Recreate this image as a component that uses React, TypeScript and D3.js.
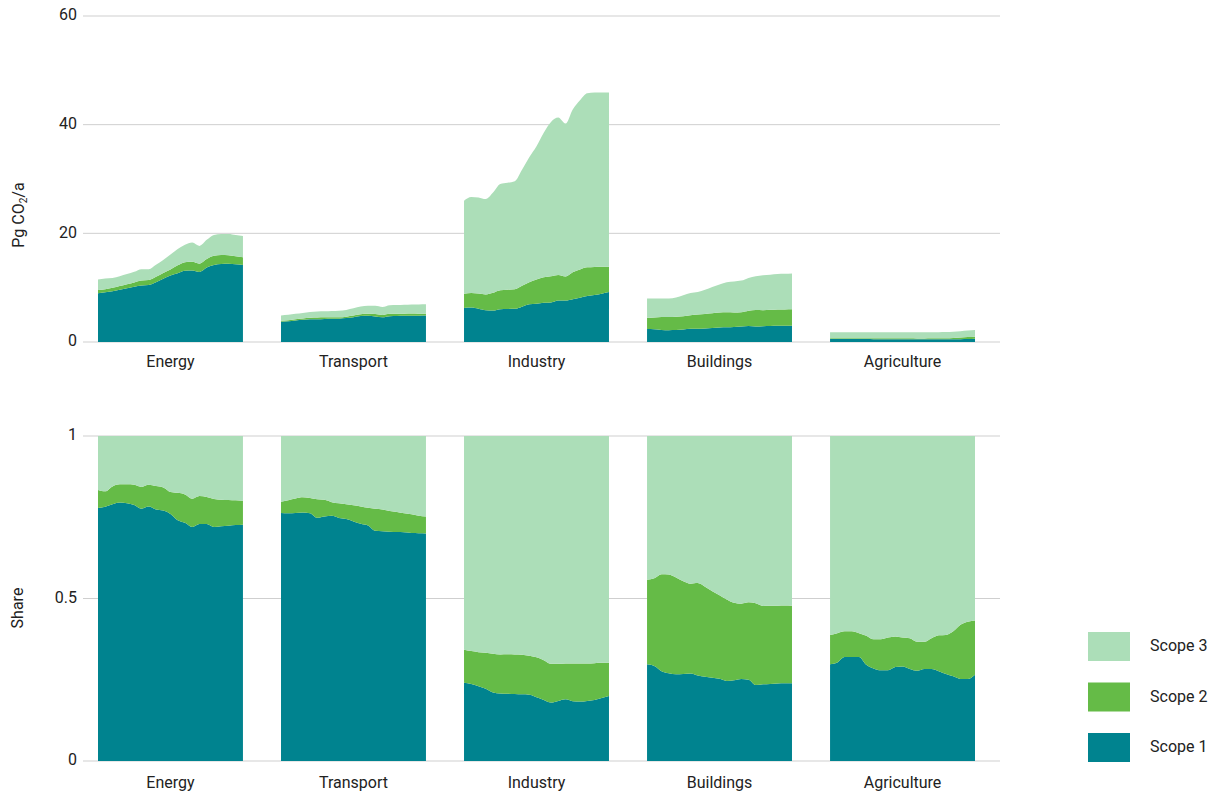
import React from "react";
import * as d3 from "d3";

// Sectors, scopes and the yearly series (Pg CO2 per year) for each sector.
const sectors = ["Energy", "Transport", "Industry", "Buildings", "Agriculture"];
const scopeKeys = ["s1", "s2", "s3"];
const scopeLabels = ["Scope 1", "Scope 2", "Scope 3"];
const scopeColors = ["#00838f", "#65bb47", "#acdeb8"];
const years = [2000, 2001, 2002, 2003, 2004, 2005, 2006, 2007, 2008, 2009, 2010,
  2011, 2012, 2013, 2014, 2015, 2016, 2017, 2018, 2019, 2020];

const energyScope1 = [8.95, 9.15, 9.32, 9.62, 9.91, 10.17, 10.4, 10.49, 10.99, 11.64, 12.24,
  12.67, 13.12, 13.18, 12.9, 13.71, 14.18, 14.37, 14.41, 14.3, 14.18];
const energyScope2 = [0.64, 0.56, 0.65, 0.68, 0.73, 0.8, 0.9, 0.9, 1.02, 1.07, 1.09,
  1.44, 1.56, 1.59, 1.52, 1.56, 1.69, 1.63, 1.57, 1.5, 1.44];
const energyScope3 = [1.91, 1.99, 1.83, 1.8, 1.86, 1.94, 2.1, 2.01, 2.19, 2.39, 2.77,
  2.99, 3.22, 3.53, 3.27, 3.53, 3.82, 3.9, 3.92, 3.9, 3.88];

const transportScope1 = [3.74, 3.82, 3.97, 4.09, 4.2, 4.19, 4.25, 4.3, 4.3, 4.4, 4.57,
  4.78, 4.82, 4.71, 4.56, 4.76, 4.79, 4.82, 4.84, 4.85, 4.86];
const transportScope2 = [0.17, 0.2, 0.23, 0.25, 0.26, 0.32, 0.29, 0.24, 0.26, 0.27, 0.31,
  0.35, 0.36, 0.45, 0.43, 0.43, 0.42, 0.4, 0.4, 0.37, 0.36];
const transportScope3 = [0.99, 0.99, 1.0, 1.01, 1.05, 1.09, 1.11, 1.16, 1.19, 1.24, 1.32,
  1.42, 1.47, 1.49, 1.46, 1.56, 1.59, 1.63, 1.66, 1.7, 1.72];

const industryScope1 = [6.27, 6.33, 6.12, 5.84, 5.8, 6.05, 6.07, 6.1, 6.5, 6.94, 7.06,
  7.24, 7.29, 7.64, 7.64, 7.88, 8.14, 8.47, 8.63, 8.9, 9.18];
const industryScope2 = [2.63, 2.7, 2.79, 2.92, 3.27, 3.49, 3.55, 3.61, 3.87, 4.08, 4.43,
  4.7, 4.82, 4.71, 4.42, 4.96, 5.21, 5.27, 5.19, 4.96, 4.68];
const industryScope3 = [17.11, 17.67, 17.69, 17.54, 18.43, 19.55, 19.69, 19.89, 21.33, 22.98, 24.52,
  26.57, 28.39, 28.95, 28.14, 29.96, 31.15, 32.06, 32.08, 32.04, 32.04];

const buildingsScope1 = [2.38, 2.34, 2.21, 2.16, 2.19, 2.3, 2.42, 2.42, 2.49, 2.59, 2.68,
  2.71, 2.77, 2.85, 2.95, 2.83, 2.9, 2.94, 2.98, 3.0, 3.01];
const buildingsScope2 = [2.08, 2.16, 2.39, 2.43, 2.44, 2.45, 2.49, 2.62, 2.66, 2.69, 2.73,
  2.76, 2.66, 2.62, 2.81, 3.04, 2.96, 2.98, 3.0, 3.0, 3.01];
const buildingsScope3 = [3.54, 3.5, 3.4, 3.41, 3.57, 3.84, 4.09, 4.16, 4.45, 4.83, 5.19,
  5.53, 5.72, 5.83, 6.04, 6.23, 6.43, 6.48, 6.53, 6.55, 6.58];

const agricultureScope1 = [0.53, 0.54, 0.57, 0.57, 0.57, 0.53, 0.51, 0.5, 0.5, 0.52, 0.52,
  0.51, 0.5, 0.51, 0.51, 0.5, 0.49, 0.49, 0.5, 0.53, 0.59];
const agricultureScope2 = [0.16, 0.16, 0.14, 0.14, 0.13, 0.16, 0.16, 0.17, 0.18, 0.17, 0.16,
  0.17, 0.16, 0.15, 0.17, 0.2, 0.22, 0.26, 0.33, 0.37, 0.37];
const agricultureScope3 = [1.09, 1.08, 1.07, 1.07, 1.08, 1.1, 1.12, 1.12, 1.11, 1.11, 1.11,
  1.12, 1.14, 1.14, 1.12, 1.11, 1.12, 1.13, 1.15, 1.2, 1.26];

const absTicks = [0, 20, 40, 60];
const shareTicks = [0, 0.5, 1];
const shareTickLabels = ["0", "0.5", "1"];

const sectorSeries: Record<string, number[][]> = {
  Energy: [energyScope1, energyScope2, energyScope3],
  Transport: [transportScope1, transportScope2, transportScope3],
  Industry: [industryScope1, industryScope2, industryScope3],
  Buildings: [buildingsScope1, buildingsScope2, buildingsScope3],
  Agriculture: [agricultureScope1, agricultureScope2, agricultureScope3],
};

type Row = { year: number; s1: number; s2: number; s3: number };

function rowsFor(sector: string): Row[] {
  const [a, b, c] = sectorSeries[sector];
  return years.map((year, i) => ({ year, s1: a[i], s2: b[i], s3: c[i] }));
}

const W = 1222;
const H = 794;
const gridLeft = 83;
const gridRight = 1000;
const font = "Roboto, 'Noto Sans', sans-serif";
const textColor = "#222";
const gridColor = "#cfcfcf";

const band = d3.scaleBand<string>().domain(sectors).range([98, 975]).paddingInner(0.208).paddingOuter(0);

const yAbs = d3.scaleLinear().domain([0, 60]).range([342, 16]);
const yShare = d3.scaleLinear().domain([0, 1]).range([761, 436]);

const stackAbs = d3.stack<Row>().keys(scopeKeys);
const stackShare = d3.stack<Row>().keys(scopeKeys).offset(d3.stackOffsetExpand);

function Panel({ sector, share }: { sector: string; share: boolean }) {
  const x0 = band(sector)!;
  const x = d3.scaleLinear().domain(d3.extent(years) as [number, number]).range([x0, x0 + band.bandwidth()]);
  const y = share ? yShare : yAbs;
  const layers = (share ? stackShare : stackAbs)(rowsFor(sector));
  const area = d3
    .area<d3.SeriesPoint<Row>>()
    .x((d) => x(d.data.year))
    .y0((d) => y(d[0]))
    .y1((d) => y(d[1]))
    .curve(d3.curveMonotoneX);
  return (
    <g>
      {layers.map((layer, i) => (
        <path key={layer.key} d={area(layer) || ""} fill={scopeColors[i]} />
      ))}
    </g>
  );
}

function Chart({ share }: { share: boolean }) {
  const y = share ? yShare : yAbs;
  const ticks = share ? shareTicks : absTicks;
  const labels = share ? shareTickLabels : absTicks.map(String);
  const labelY = share ? 783 : 362;
  return (
    <g>
      {ticks.map((t, i) => (
        <g key={t}>
          <line x1={gridLeft} x2={gridRight} y1={y(t)} y2={y(t)} stroke={gridColor} strokeWidth={1} />
          <text x={77} y={y(t)} textAnchor="end" dominantBaseline="middle" fontSize={16} fill={textColor}>
            {labels[i]}
          </text>
        </g>
      ))}
      {sectors.map((s) => (
        <Panel key={s} sector={s} share={share} />
      ))}
      {sectors.map((s) => (
        <text
          key={s}
          x={band(s)! + band.bandwidth() / 2}
          y={labelY + 1}
          textAnchor="middle"
          dominantBaseline="middle"
          fontSize={16}
          fill={textColor}
        >
          {s}
        </text>
      ))}
    </g>
  );
}

export default function App() {
  const legendOrder = [2, 1, 0];
  return (
    <svg
      width={W}
      height={H}
      style={{ position: "absolute", left: 0, top: 0, display: "block", background: "#fff" }}
      fontFamily={font}
    >
      <Chart share={false} />
      <Chart share={true} />
      <text
        transform="translate(20,215) rotate(-90)"
        textAnchor="middle"
        dominantBaseline="middle"
        fontSize={16}
        fill={textColor}
      >
        Pg CO
        <tspan fontSize={10} dy={4}>2</tspan>
        <tspan dy={-4}>/a</tspan>
      </text>
      <text
        transform="translate(19,608) rotate(-90)"
        textAnchor="middle"
        dominantBaseline="middle"
        fontSize={16}
        fill={textColor}
      >
        Share
      </text>
      {legendOrder.map((k, i) => (
        <g key={k} transform={`translate(1088,${632 + i * 50.5})`}>
          <rect width={42} height={29} fill={scopeColors[k]} />
          <text x={62} y={15} dominantBaseline="middle" fontSize={16} fill={textColor}>
            {scopeLabels[k]}
          </text>
        </g>
      ))}
    </svg>
  );
}
